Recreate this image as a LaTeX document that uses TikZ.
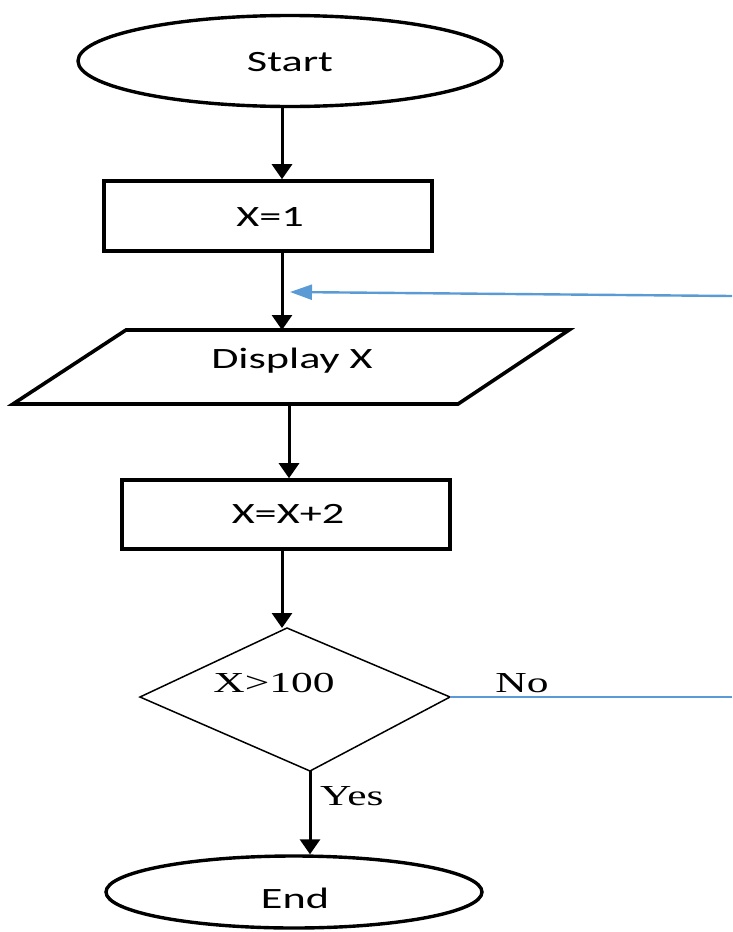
\documentclass[tikz,border=0pt]{standalone}
\usepackage{fontspec}
\usepackage{graphicx}
\setsansfont{Carlito}
\setmainfont{Liberation Serif}
\usetikzlibrary{shapes.geometric,arrows.meta}
\definecolor{loopblue}{HTML}{5B9BD5}
\newcommand{\hs}[1]{\scalebox{1.5}[1]{#1}}
\begin{document}
\begin{tikzpicture}[x=1pt,y=-1pt,
  sanslabel/.style={font=\sffamily\fontsize{29.5}{32}\selectfont, inner sep=0},
  seriflabel/.style={font=\rmfamily\fontsize{29}{32}\selectfont, inner sep=0},
  terminal/.style={ellipse, draw, line width=3.4pt, inner sep=0},
  procbox/.style={draw, line width=3.6pt, inner sep=0},
  flowarr/.style={line width=3pt, -{Triangle[length=15pt,width=20pt]}},
  bluearr/.style={draw=loopblue, line width=2.4pt, -{Triangle[length=22pt,width=15pt]}},
  blueline/.style={draw=loopblue, line width=2.2pt},
  thinshape/.style={draw, line width=1.5pt, line join=miter}]
\useasboundingbox (0,0) rectangle (732,932);

% Start
\node[terminal, minimum width=424pt, minimum height=91pt] (start) at (290,61) {};
\node[sanslabel] (starttext) at (290,62) {\hs{Start}};

% X=1
\node[procbox, minimum width=328pt, minimum height=70pt] (x1) at (268,216) {};
\node[sanslabel] (x1text) at (270,217) {\hs{X=1}};

% Display X (parallelogram)
\coordinate (pTL) at (126,330);
\coordinate (pTR) at (569,330);
\coordinate (pBR) at (458,404);
\coordinate (pBL) at (13,404);
\draw[line width=3.6pt, line join=miter] (pTL) -- (pTR) -- (pBR) -- (pBL) -- cycle;
\node[sanslabel] (disp) at (292,361) {\hs{Display X}};

% X=X+2
\node[procbox, minimum width=328pt, minimum height=69pt] (x2) at (286,514.5) {};
\node[sanslabel] (x2text) at (288,514) {\hs{X=X+2}};

% Decision diamond
\coordinate (dT) at (287,628);
\coordinate (dL) at (140,697);
\coordinate (dR) at (450,697);
\coordinate (dB) at (310,771);
\draw[thinshape] (dT) -- (dR) -- (dB) -- (dL) -- cycle;
\node[seriflabel] (cond) at (274,683) {\hs{X>100}};
\node[seriflabel] (nolab) at (522,683) {\hs{No}};
\node[seriflabel, anchor=west] (yeslab) at (320,796) {\hs{Yes}};

% End
\node[terminal, minimum width=376pt, minimum height=72pt] (end) at (294,892) {};
\node[sanslabel] (endtext) at (295,898) {\hs{End}};

% arrow x positions
\coordinate (c1) at (282,0);
\coordinate (c2) at (289,0);
\coordinate (c3) at (310,0);

\draw[flowarr] (start.south -| c1) -- (x1.north -| c1);
\draw[flowarr] (x1.south -| c1) -- (pTL -| c1);
\draw[flowarr] (pBL -| c2) -- (x2.north -| c2);
\draw[flowarr] (x2.south -| c1) -- (dT -| c1);
\draw[flowarr] (dB) -- (end.north -| dB);

% loop back (blue)
\coordinate (loopR) at (732,296);
\coordinate (loopT) at (290,292);
\coordinate (noR) at (732,697);
\draw[blueline] (dR) -- (noR);
\draw[bluearr] (loopR) -- (loopT);
\end{tikzpicture}
\end{document}
